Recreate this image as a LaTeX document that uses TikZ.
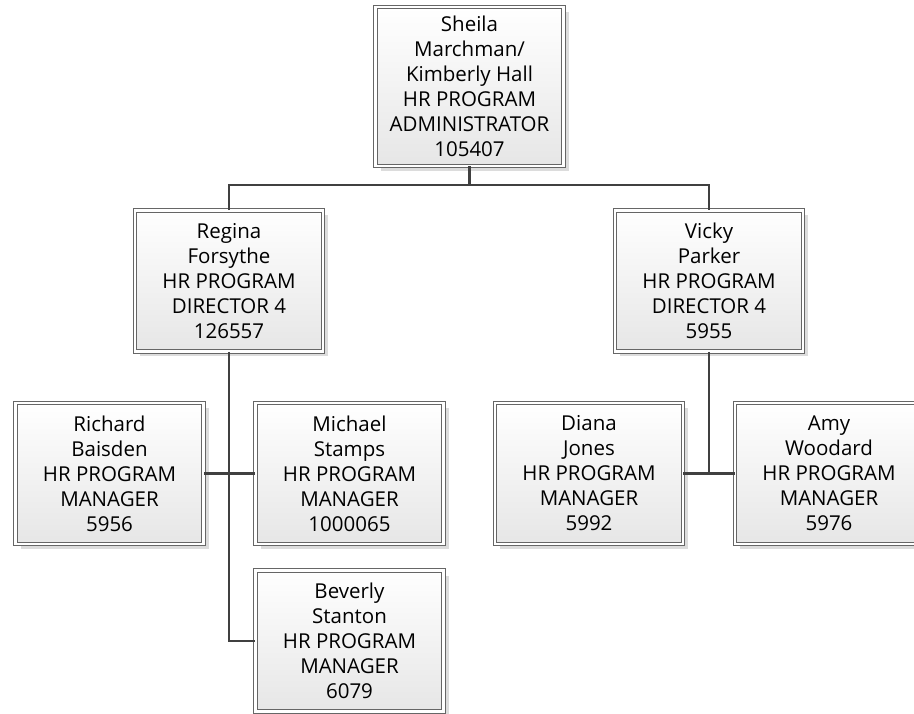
\documentclass[tikz,border=0pt]{standalone}
\usepackage{fontspec}
\setmainfont{Open Sans}
\usetikzlibrary{shadows}
\definecolor{boxline}{HTML}{666666}
\definecolor{conn}{HTML}{404040}
\definecolor{shadowc}{HTML}{DCDCDC}
\definecolor{fillbot}{HTML}{E6E6E6}
\tikzset{
  orgbox/.style={rectangle, draw=boxline, line width=0.9pt, double=white, double distance=2.6pt,
    top color=white, bottom color=fillbot, inner sep=0pt,
    minimum width=188pt, minimum height=141pt, align=center,
    font=\fontsize{20.5}{25}\selectfont, text=black,
    drop shadow={shadow xshift=5pt, shadow yshift=-5pt, fill=shadowc, opacity=1}},
  topbox/.style={orgbox, minimum height=159pt},
  link/.style={draw=conn, line width=2.8pt}
}
\begin{document}
\begin{tikzpicture}[x=1pt,y=1pt]
\useasboundingbox (0,0) rectangle (914,-714);
\node[topbox] (top) at (469.5,-86.5) {Sheila\\Marchman/\\Kimberly Hall\\HR PROGRAM\\ADMINISTRATOR\\105407};
\node[orgbox] (reg) at (229,-281) {Regina\\Forsythe\\HR PROGRAM\\DIRECTOR 4\\126557};
\node[orgbox] (vic) at (709,-281) {Vicky\\Parker\\HR PROGRAM\\DIRECTOR 4\\5955};
\node[orgbox] (ric) at (109.5,-473.5) {Richard\\Baisden\\HR PROGRAM\\MANAGER\\5956};
\node[orgbox] (mic) at (349.5,-473.5) {Michael\\Stamps\\HR PROGRAM\\MANAGER\\1000065};
\node[orgbox] (bev) at (349.5,-641) {Beverly\\Stanton\\HR PROGRAM\\MANAGER\\6079};
\node[orgbox] (dia) at (589,-473.5) {Diana\\Jones\\HR PROGRAM\\MANAGER\\5992};
\node[orgbox] (amy) at (829,-473.5) {Amy\\Woodard\\HR PROGRAM\\MANAGER\\5976};
\coordinate (j1) at (469.5,-185);
\draw[link] (top.south) -- (j1);
\draw[link] (reg.north) -- (reg.north |- j1) -- (vic.north |- j1) -- (vic.north);
\draw[link] (reg.south) |- (bev.west);
\draw[link] (ric.east) -- (mic.west);
\draw[link] (vic.south) -- (vic.south |- dia.east);
\draw[link] (dia.east) -- (amy.west);
\end{tikzpicture}
\end{document}
